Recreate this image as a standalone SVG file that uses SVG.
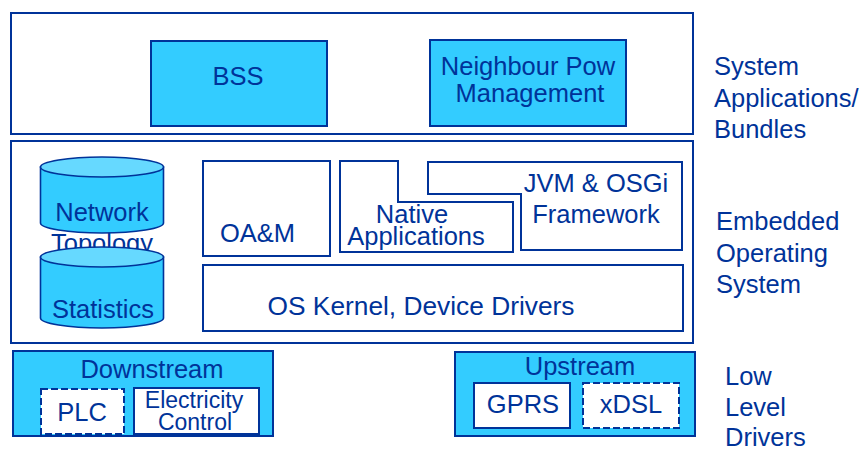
<svg xmlns="http://www.w3.org/2000/svg" width="867" height="451" viewBox="0 0 867 451">
<style>
.box{fill:#ffffff;stroke:#003399;stroke-width:2}
.cyan{fill:#33CCFF;stroke:#003399;stroke-width:2}
.cyltop{fill:#66D9FF;stroke:#003399;stroke-width:1.6}
.cylbody{fill:#33CCFF;stroke:#003399;stroke-width:1.6}
.dash{fill:#ffffff;stroke:#003399;stroke-width:2;stroke-dasharray:7 3}
text{font-family:"Liberation Sans",Arial,sans-serif;font-size:25.5px;fill:#003399}
.c{text-anchor:middle}
.s{font-size:23px}
</style>
<rect width="867" height="451" fill="#ffffff"/>

<g id="system-applications">
<rect class="box" x="11" y="13" width="682" height="121"/>
</g>
<g id="bss">
<rect class="cyan" x="151" y="41" width="176" height="85"/>
<text class="c" x="238" y="85">BSS</text>
</g>
<g id="neighbour">
<rect class="cyan" x="430" y="40" width="196" height="86"/>
<text class="c" x="528" y="75">Neighbour Pow</text>
<text class="c" x="530" y="102">Management</text>
</g>

<g id="embedded-os">
<rect class="box" x="11" y="141" width="682" height="202"/>
</g>
<g id="oam">
<rect class="box" x="203" y="161" width="127" height="95"/>
<text x="220" y="242">OA&amp;M</text>
</g>
<g id="native-applications">
<path class="box" d="M340,161 H398 V202 H513 V252 H340 Z"/>
<text class="c" x="412" y="223">Native</text>
<text class="c" x="416" y="245">Applications</text>
</g>
<g id="jvm-osgi">
<path class="box" d="M428,162 H682 V250 H521 V194 H428 Z"/>
<text class="c" x="596" y="192">JVM &amp; OSGi</text>
<text class="c" x="596" y="223">Framework</text>
</g>
<g id="os-kernel">
<rect class="box" x="203" y="265" width="480" height="66"/>
<text class="c" x="421" y="315" style="font-size:26.3px">OS Kernel, Device Drivers</text>
</g>
<g id="network-topology">
<path class="cylbody" d="M40.5,167 V223 A61.5,10 0 0 0 163.5,223 V167 Z"/>
<ellipse class="cyltop" cx="102" cy="167" rx="61.5" ry="10"/>
<text class="c" x="102" y="221">Network</text>
<text class="c" x="102" y="252">Topology</text>
</g>
<g id="statistics">
<path class="cylbody" d="M40.5,257 V318 A61.5,10 0 0 0 163.5,318 V257 Z"/>
<ellipse class="cyltop" cx="102" cy="257" rx="61.5" ry="10"/>
<text class="c" x="103" y="318">Statistics</text>
</g>

<g id="downstream">
<rect class="cyan" x="13" y="351" width="260" height="85"/>
<text class="c" x="152" y="378">Downstream</text>
</g>
<g id="plc">
<rect class="dash" x="41" y="389" width="83" height="45"/>
<text class="c" x="82" y="421">PLC</text>
</g>
<g id="electricity-control">
<rect class="box" x="134" y="388" width="125" height="46"/>
<text class="c s" x="194" y="408">Electricity</text>
<text class="c s" x="195" y="430">Control</text>
</g>
<g id="upstream">
<rect class="cyan" x="455" y="352" width="240" height="84"/>
<text class="c" x="580" y="375">Upstream</text>
</g>
<g id="gprs">
<rect class="box" x="474" y="383" width="96" height="45"/>
<text class="c" x="523" y="413">GPRS</text>
</g>
<g id="xdsl">
<rect class="dash" x="583" y="383" width="96" height="45"/>
<text class="c" x="631" y="413">xDSL</text>
</g>

<g id="layer-labels">
<text x="714" y="75">System</text>
<text x="714" y="107">Applications/</text>
<text x="714" y="138">Bundles</text>
<text x="716" y="230">Embedded</text>
<text x="716" y="262">Operating</text>
<text x="716" y="293">System</text>
<text x="725" y="385">Low</text>
<text x="725" y="416">Level</text>
<text x="725" y="446">Drivers</text>
</g>
</svg>
